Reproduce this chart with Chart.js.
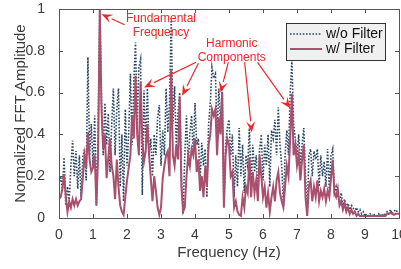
<!DOCTYPE html>
<html>
<head>
<meta charset="utf-8">
<script src="https://cdn.jsdelivr.net/npm/chart.js@4"></script>
<style>
  html, body { margin: 0; padding: 0; background: #fff; }
  #wrap { width: 401px; height: 269px; }
</style>
</head>
<body>
<div id="wrap"><canvas id="fft" width="401" height="269"></canvas></div>
<script>
// frequency grid (Hz), 0.05 Hz spacing
const freqStep = 0.05;
const freqCount = 201;

// normalized FFT amplitude without filter
const noFilter = [
  0.16, 0.20, 0.13, 0.29, 0.06, 0.15, 0.08, 0.25, 0.37, 0.20,
  0.32, 0.14, 0.30, 0.10, 0.29, 0.33, 0.18, 0.77, 0.30, 0.45,
  0.25, 0.49, 0.06, 0.40, 1.00, 0.56, 0.30, 0.55, 0.35, 0.50,
  0.22, 0.45, 0.62, 0.30, 0.52, 0.62, 0.15, 0.40, 0.08, 0.52,
  0.25, 0.41, 0.69, 0.35, 0.65, 0.84, 0.45, 0.72, 0.76, 0.11,
  0.61, 0.35, 0.62, 0.30, 0.38, 0.20, 0.40, 0.30, 0.48, 0.54,
  0.25, 0.42, 0.30, 0.62, 0.41, 0.55, 0.955, 0.45, 0.63, 0.35,
  0.50, 0.60, 0.20, 0.02, 0.30, 0.49, 0.25, 0.41, 0.49, 0.30,
  0.55, 0.35, 0.38, 0.18, 0.36, 0.25, 0.33, 0.10, 0.45, 0.55,
  0.72, 0.67, 0.69, 0.40, 0.62, 0.45, 0.63, 0.05, 0.35, 0.43,
  0.47, 0.30, 0.40, 0.10, 0.30, 0.15, 0.43, 0.20, 0.35, 0.12,
  0.30, 0.25, 0.43, 0.15, 0.35, 0.22, 0.30, 0.10, 0.33, 0.40,
  0.18, 0.35, 0.25, 0.40, 0.15, 0.42, 0.38, 0.47, 0.30, 0.53,
  0.35, 0.25, 0.06, 0.30, 0.42, 0.30, 0.60, 0.755, 0.45, 0.38,
  0.30, 0.40, 0.25, 0.35, 0.43, 0.20, 0.01, 0.30, 0.33, 0.20,
  0.32, 0.28, 0.33, 0.15, 0.30, 0.20, 0.27, 0.15, 0.33, 0.13,
  0.30, 0.33, 0.12, 0.15, 0.10, 0.08, 0.12, 0.06, 0.09, 0.05,
  0.07, 0.04, 0.06, 0.05, 0.03, 0.05, 0.03, 0.04, 0.02, 0.03,
  0.01, 0.02, 0.01, 0.02, 0.01, 0.02, 0.01, 0.01, 0.02, 0.01,
  0.02, 0.01, 0.02, 0.03, 0.02, 0.04, 0.02, 0.03, 0.04, 0.03,
  0.03
];

// normalized FFT amplitude with filter
const withFilter = [
  0.09, 0.10, 0.14, 0.21, 0.10, 0.03, 0.08, 0.05, 0.09, 0.06,
  0.09, 0.06, 0.08, 0.09, 0.19, 0.30, 0.24, 0.41, 0.28, 0.22,
  0.24, 0.30, 0.06, 0.30, 1.00, 0.52, 0.33, 0.40, 0.19, 0.29,
  0.38, 0.25, 0.20, 0.09, 0.28, 0.15, 0.06, 0.03, 0.015, 0.10,
  0.18, 0.24, 0.30, 0.49, 0.38, 0.68, 0.40, 0.30, 0.65, 0.37,
  0.27, 0.32, 0.45, 0.30, 0.19, 0.08, 0.20, 0.13, 0.05, 0.015,
  0.05, 0.19, 0.25, 0.30, 0.32, 0.20, 0.71, 0.30, 0.25, 0.35,
  0.28, 0.58, 0.15, 0.03, 0.05, 0.20, 0.30, 0.25, 0.33, 0.30,
  0.38, 0.22, 0.28, 0.13, 0.20, 0.10, 0.25, 0.15, 0.35, 0.40,
  0.52, 0.49, 0.52, 0.30, 0.48, 0.40, 0.60, 0.05, 0.30, 0.38,
  0.35, 0.20, 0.22, 0.05, 0.08, 0.03, 0.015, 0.01, 0.10, 0.05,
  0.15, 0.12, 0.29, 0.10, 0.22, 0.12, 0.18, 0.08, 0.30, 0.20,
  0.10, 0.15, 0.05, 0.12, 0.03, 0.10, 0.15, 0.08, 0.18, 0.22,
  0.12, 0.08, 0.05, 0.15, 0.25, 0.20, 0.38, 0.596, 0.30, 0.35,
  0.25, 0.30, 0.18, 0.28, 0.35, 0.10, 0.01, 0.15, 0.18, 0.08,
  0.15, 0.10, 0.18, 0.08, 0.13, 0.10, 0.14, 0.08, 0.13, 0.10,
  0.19, 0.28, 0.12, 0.10, 0.14, 0.06, 0.08, 0.04, 0.07, 0.03,
  0.05, 0.02, 0.04, 0.02, 0.03, 0.01, 0.02, 0.01, 0.01, 0.01,
  0.01, 0.01, 0.01, 0.01, 0.01, 0.01, 0.01, 0.01, 0.01, 0.01,
  0.01, 0.01, 0.01, 0.02, 0.02, 0.025, 0.02, 0.015, 0.02, 0.02,
  0.02
];

const xTicks = [0, 1, 2, 3, 4, 5, 6, 7, 8, 9, 10];
const yTicks = [0, 0.2, 0.4, 0.6, 0.8, 1];

const freqs = Array.from({ length: freqCount }, (_, i) => +(i * freqStep).toFixed(2));
const toPoints = vals => vals.map((v, i) => ({ x: freqs[i], y: v }));

const blue = '#2a4766';
const red = '#a9506f';
const annRed = '#f0262a';
const textGray = '#3a3a3a';

// annotation labels and arrows, anchored in data units
const annotations = [
  { lines: ['Fundamental', 'Frequency'], x: 3.0, y: 0.955,
    arrows: [[1.93, 0.925, 1.25, 0.975]] },
  { lines: ['Harmonic', 'Components'], x: 5.08, y: 0.835,
    arrows: [[4.03, 0.745, 2.5, 0.625], [4.1, 0.74, 3.62, 0.585],
             [4.98, 0.745, 4.75, 0.6], [5.46, 0.745, 5.67, 0.41],
             [5.84, 0.745, 6.8, 0.525]] }
];

function arrow(ctx, x1, y1, x2, y2) {
  const ang = Math.atan2(y2 - y1, x2 - x1);
  const hl = 11, hw = 4.5;
  const bx = x2 - hl * Math.cos(ang), by = y2 - hl * Math.sin(ang);
  ctx.beginPath();
  ctx.moveTo(x1, y1);
  ctx.lineTo(bx, by);
  ctx.stroke();
  ctx.beginPath();
  ctx.moveTo(x2, y2);
  ctx.lineTo(bx + hw * Math.sin(ang), by - hw * Math.cos(ang));
  ctx.lineTo(x2 - 0.6 * hl * Math.cos(ang), y2 - 0.6 * hl * Math.sin(ang));
  ctx.lineTo(bx - hw * Math.sin(ang), by + hw * Math.cos(ang));
  ctx.closePath();
  ctx.fill();
}

const boxPlugin = {
  id: 'box',
  afterDatasetsDraw(chart) {
    const { ctx, chartArea: a, scales: { x, y } } = chart;
    ctx.save();
    ctx.strokeStyle = '#555';
    ctx.lineWidth = 1;
    ctx.strokeRect(a.left + 0.5, a.top + 0.5, a.right - a.left, a.bottom - a.top);
    ctx.beginPath();
    xTicks.forEach(t => {
      const px = Math.round(x.getPixelForValue(t)) + 0.5;
      ctx.moveTo(px, a.bottom); ctx.lineTo(px, a.bottom - 4);
      ctx.moveTo(px, a.top); ctx.lineTo(px, a.top + 4);
    });
    yTicks.forEach(t => {
      const py = Math.round(y.getPixelForValue(t)) + 0.5;
      ctx.moveTo(a.left, py); ctx.lineTo(a.left + 4, py);
      ctx.moveTo(a.right, py); ctx.lineTo(a.right - 4, py);
    });
    ctx.stroke();

    // annotations
    ctx.fillStyle = annRed;
    ctx.strokeStyle = annRed;
    ctx.lineWidth = 1.2;
    ctx.font = '12px "Liberation Sans", Arial, sans-serif';
    ctx.textAlign = 'center';
    ctx.textBaseline = 'middle';
    annotations.forEach(an => {
      const cx = x.getPixelForValue(an.x), cy = y.getPixelForValue(an.y);
      an.lines.forEach((l, i) => ctx.fillText(l, cx, cy + i * 14.5));
      an.arrows.forEach(r => arrow(ctx, x.getPixelForValue(r[0]), y.getPixelForValue(r[1]),
                                   x.getPixelForValue(r[2]), y.getPixelForValue(r[3])));
    });

    // legend box
    const lx = a.right - 113, ly = a.top + 14, lw = 99, lh = 37;
    ctx.fillStyle = '#f0f0f0';
    ctx.fillRect(lx, ly, lw, lh);
    ctx.strokeStyle = '#333';
    ctx.lineWidth = 1;
    ctx.strokeRect(lx + 0.5, ly + 0.5, lw, lh);
    ctx.font = '14px "Liberation Sans", Arial, sans-serif';
    ctx.textAlign = 'left';
    chart.data.datasets.forEach((ds, i) => {
      const yy = ly + 11 + i * 15;
      ctx.strokeStyle = ds.borderColor;
      ctx.lineWidth = ds.borderWidth;
      ctx.setLineDash(ds.borderDash || []);
      ctx.beginPath();
      ctx.moveTo(lx + 4, yy); ctx.lineTo(lx + 36, yy);
      ctx.stroke();
      ctx.setLineDash([]);
      ctx.fillStyle = '#111';
      ctx.fillText(ds.label, lx + 40, yy + 0.5);
    });
    ctx.restore();
  }
};

new Chart(document.getElementById('fft').getContext('2d'), {
  type: 'line',
  data: {
    datasets: [{
      label: 'w/o Filter',
      data: toPoints(noFilter),
      borderColor: blue,
      borderWidth: 1.6,
      borderDash: [1.6, 1.6],
      pointRadius: 0,
      tension: 0,
      order: 2
    }, {
      label: 'w/ Filter',
      data: toPoints(withFilter),
      borderColor: red,
      borderWidth: 2,
      pointRadius: 0,
      tension: 0,
      order: 1
    }]
  },
  options: {
    responsive: false,
    animation: false,
    layout: { padding: { top: 9, right: 2, left: 0, bottom: 0 } },
    plugins: { legend: { display: false }, tooltip: { enabled: false } },
    scales: {
      x: {
        type: 'linear',
        min: 0, max: 10,
        afterBuildTicks: s => { s.ticks = xTicks.map(v => ({ value: v })); },
        afterFit: s => { s.height = 51; s.paddingLeft = 0; s.paddingRight = 0; },
        grid: { display: false },
        border: { display: false },
        ticks: { color: textGray, font: { family: '"Liberation Sans", Arial', size: 14 }, padding: 1, maxRotation: 0 },
        title: { display: true, text: 'Frequency (Hz)', color: textGray,
                 font: { family: '"Liberation Sans", Arial', size: 15 }, padding: { top: 0, bottom: 7 } }
      },
      y: {
        min: 0, max: 1,
        afterBuildTicks: s => { s.ticks = yTicks.map(v => ({ value: v })); },
        afterFit: s => { s.width = 59; s.paddingTop = 0; s.paddingBottom = 0; },
        grid: { display: false },
        border: { display: false },
        ticks: { color: textGray, font: { family: '"Liberation Sans", Arial', size: 14 }, padding: 6,
                 callback: v => String(+v.toFixed(1)) },
        title: { display: true, text: 'Normalized FFT Amplitude', color: textGray,
                 font: { family: '"Liberation Sans", Arial', size: 15 }, padding: { top: 12, bottom: 0 } }
      }
    }
  },
  plugins: [boxPlugin]
});
</script>
</body>
</html>
